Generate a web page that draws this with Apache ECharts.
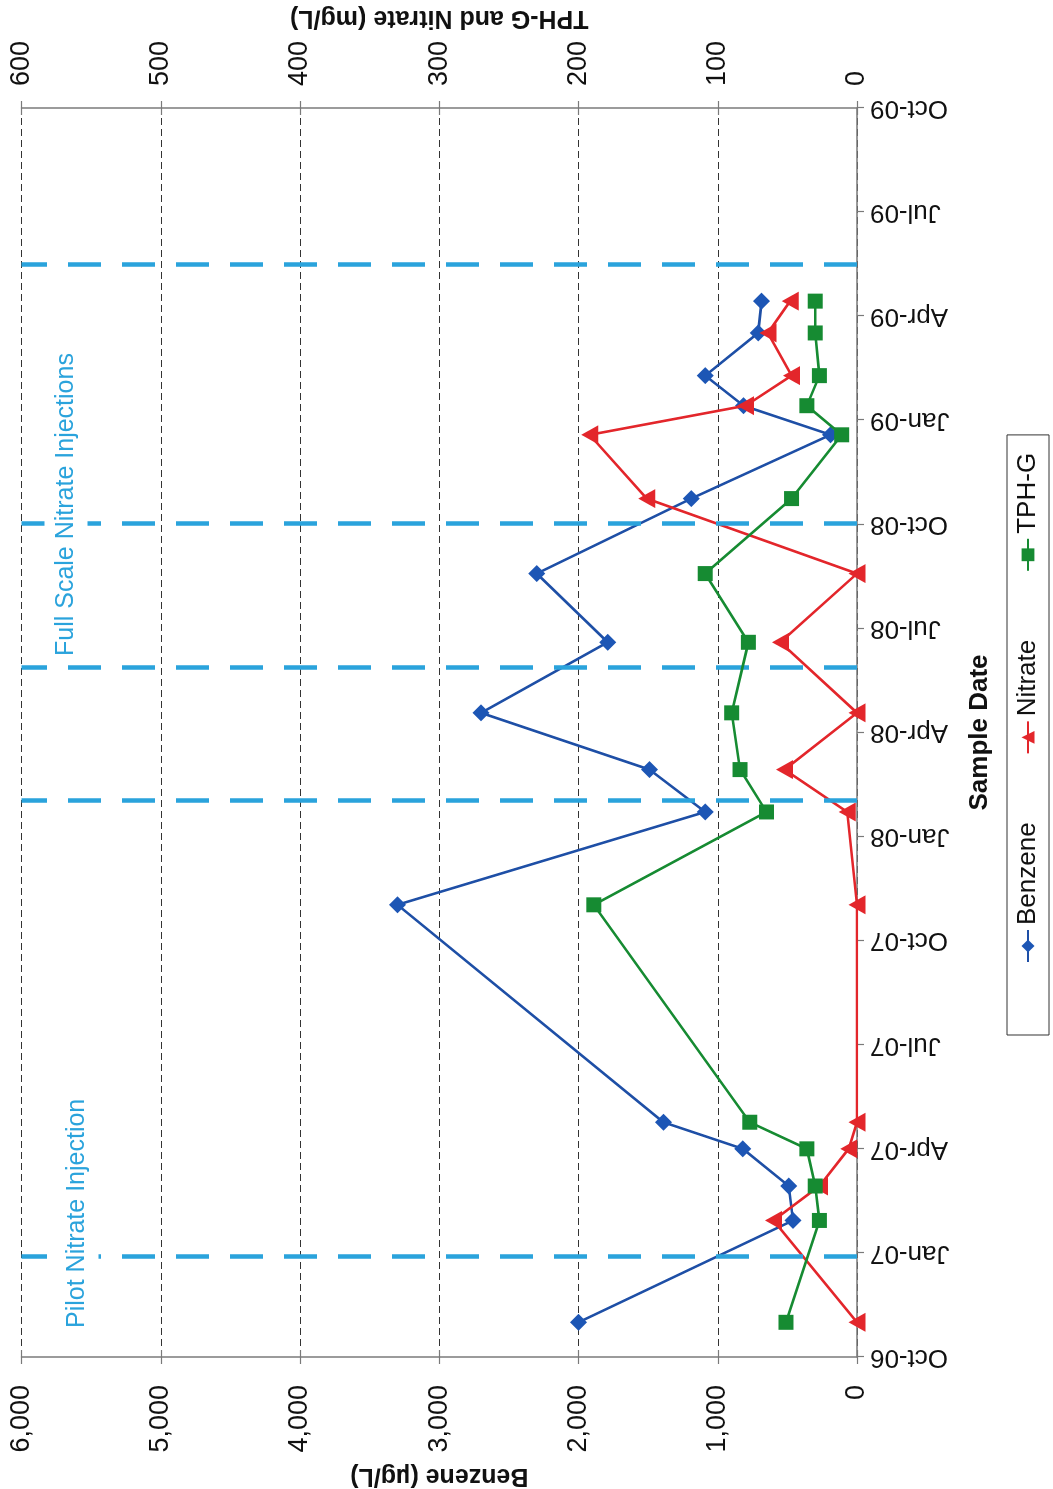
<!DOCTYPE html>
<html>
<head>
<meta charset="utf-8">
<script src="https://cdn.jsdelivr.net/npm/echarts@6/dist/echarts.min.js"></script>
<style>
  html, body { margin: 0; padding: 0; background: #fff; overflow: hidden; width: 1053px; height: 1489px; }
  /* the chart is laid out landscape and turned a quarter turn counter-clockwise onto the portrait page */
  #chart { position: absolute; left: 0; top: 0; width: 1489px; height: 1053px;
           transform-origin: 0 0; transform: translateY(1489px) rotate(-90deg); }
</style>
</head>
<body>
<div id="chart"></div>
<script>
// Monitoring results per sample date
const sampleDates = ['2006-11-01', '2007-01-30', '2007-02-27', '2007-04-01', '2007-04-24',
                     '2007-11-02', '2008-01-23', '2008-02-28', '2008-04-18', '2008-06-19',
                     '2008-08-19', '2008-10-24', '2008-12-19', '2009-01-14', '2009-02-09',
                     '2009-03-17', '2009-04-14'];
const benzene = [2000, 460, 490, 820, 1390, 3300, 1090, 1490, 2700, 1790, 2300, 1190, 190, 815, 1090, 710, 685];
const nitrate = [0, 60, 27, 6, 0, 0, 7, 52, 0, 55, 0, 151, 192, 80, 47, 64, 48];
const tphg = [51, 27, 30, 36, 77, 189, 65, 84, 90, 78, 109, 47, 11, 36, 27, 30, 30];

// Nitrate injection events (pilot, then full scale)
const injectionDates = ['2006-12-29', '2008-02-02', '2008-05-28', '2008-10-02', '2009-05-16'];

// Axis tick labels
const dateTicks = ['Oct-06', 'Jan-07', 'Apr-07', 'Jul-07', 'Oct-07', 'Jan-08', 'Apr-08',
                   'Jul-08', 'Oct-08', 'Jan-09', 'Apr-09', 'Jul-09', 'Oct-09'];
const benzeneTicks = ['0', '1,000', '2,000', '3,000', '4,000', '5,000', '6,000'];
const mgTicks = ['0', '100', '200', '300', '400', '500', '600'];

// Dates are placed on a month scale starting at 1 Oct 2006
function monthIndex(s) {
  const [y, m, d] = s.split('-').map(Number);
  const dim = new Date(y, m, 0).getDate();
  return (y - 2006) * 12 + (m - 1) - 9 + (d - 1) / dim;
}
const xs = sampleDates.map(monthIndex);
const pairs = vals => xs.map((x, i) => [x, vals[i]]);

const FONT = '"Liberation Sans", Arial, sans-serif';
const AXIS_GREY = '#7a7a7a';
const BLUE_MARK = '#2aa3dc';

const chart = echarts.init(document.getElementById('chart'), null, { width: 1489, height: 1053, renderer: 'canvas' });

chart.setOption({
  animation: false,
  backgroundColor: '#ffffff',
  textStyle: { fontFamily: FONT, color: '#111' },
  grid: { left: 132, right: 108, top: 21.5, bottom: 196, containLabel: false, outerBoundsMode: 'none' },
  legend: {
    left: 454, top: 1007, orient: 'horizontal',
    padding: [8, 18, 8, 72], itemGap: 68, itemWidth: 32, itemHeight: 16,
    borderColor: '#333', borderWidth: 1,
    textStyle: { fontSize: 26, color: '#111', fontFamily: FONT },
    data: ['Benzene', 'Nitrate', 'TPH-G']
  },
  xAxis: {
    type: 'value', min: 0, max: 36, interval: 3,
    name: 'Sample Date', nameLocation: 'middle', nameGap: 110,
    nameTextStyle: { fontSize: 26, fontWeight: 'bold', color: '#111', fontFamily: FONT },
    axisLine: { show: true, onZero: false, lineStyle: { color: AXIS_GREY, width: 1.5 } },
    axisTick: { show: true, length: 7, lineStyle: { color: AXIS_GREY, width: 1.2 } },
    axisLabel: { rotate: 90, fontSize: 26, margin: 13, color: '#111', fontFamily: FONT,
                 formatter: v => dateTicks[Math.round(v / 3)] },
    splitLine: { show: false }
  },
  yAxis: [
    {
      type: 'value', min: 0, max: 6000, interval: 1000, position: 'left',
      name: 'Benzene (µg/L)', nameLocation: 'middle', nameGap: 88, nameRotate: 90,
      nameTextStyle: { fontSize: 25, fontWeight: 'bold', color: '#111', fontFamily: FONT },
      axisLine: { show: true, lineStyle: { color: AXIS_GREY, width: 1.5 } },
      axisTick: { show: true, length: 7, lineStyle: { color: AXIS_GREY, width: 1.2 } },
      axisLabel: { fontSize: 27, margin: 28, color: '#111', fontFamily: FONT,
                   formatter: v => benzeneTicks[Math.round(v / 1000)] },
      splitLine: { show: true, lineStyle: { type: [7, 4], color: '#333', width: 1 } }
    },
    {
      type: 'value', min: 0, max: 600, interval: 100, position: 'right',
      name: 'TPH-G and Nitrate (mg/L)', nameLocation: 'middle', nameGap: 76, nameRotate: 90,
      nameTextStyle: { fontSize: 25, fontWeight: 'bold', color: '#111', fontFamily: FONT },
      axisLine: { show: true, lineStyle: { color: AXIS_GREY, width: 1.5 } },
      axisTick: { show: true, length: 7, lineStyle: { color: AXIS_GREY, width: 1.2 } },
      axisLabel: { fontSize: 27, margin: 22, color: '#111', fontFamily: FONT,
                   formatter: v => mgTicks[Math.round(v / 100)] },
      splitLine: { show: false }
    },
    {
      // inner half of the crossing ticks on the benzene axis
      type: 'value', min: 0, max: 6000, interval: 1000, position: 'left', offset: 0,
      axisLine: { show: false },
      axisTick: { show: true, inside: true, length: 7, lineStyle: { color: AXIS_GREY, width: 1.2 } },
      axisLabel: { show: false }, splitLine: { show: false }
    },
    {
      // inner half of the crossing ticks on the mg/L axis
      type: 'value', min: 0, max: 600, interval: 100, position: 'right', offset: 0,
      axisLine: { show: false },
      axisTick: { show: true, inside: true, length: 7, lineStyle: { color: AXIS_GREY, width: 1.2 } },
      axisLabel: { show: false }, splitLine: { show: false }
    }
  ],
  graphic: [
    {
      type: 'text', x: 159, y: 77, z: 100,
      style: { text: 'Pilot Nitrate Injection', fontSize: 25, fontFamily: FONT, fill: BLUE_MARK,
               verticalAlign: 'middle', backgroundColor: '#fff', padding: [9, 2] }
    },
    {
      type: 'text', x: 831, y: 66, z: 100,
      style: { text: 'Full Scale Nitrate Injections', fontSize: 25, fontFamily: FONT, fill: BLUE_MARK,
               verticalAlign: 'middle', backgroundColor: '#fff', padding: [9, 2] }
    }
  ],
  series: [
    {
      name: 'Injections', type: 'line', yAxisIndex: 0, data: [], silent: true, z: 1,
      markLine: {
        silent: true, symbol: ['none', 'none'], label: { show: false },
        lineStyle: { color: BLUE_MARK, width: 4.5, type: [33, 21] },
        data: injectionDates.map(d => ({ xAxis: monthIndex(d) }))
      }
    },
    {
      name: 'Benzene', type: 'line', yAxisIndex: 0, z: 3,
      data: pairs(benzene),
      symbol: 'diamond', symbolSize: 17,
      itemStyle: { color: '#1d56b5' },
      lineStyle: { color: '#1e4fa6', width: 2.6 }
    },
    {
      name: 'Nitrate', type: 'line', yAxisIndex: 1, z: 4,
      data: pairs(nitrate),
      symbol: 'triangle', symbolSize: [19, 17],
      itemStyle: { color: '#e3262b' },
      lineStyle: { color: '#e3262b', width: 2.6 }
    },
    {
      name: 'TPH-G', type: 'line', yAxisIndex: 1, z: 5,
      data: pairs(tphg),
      symbol: 'rect', symbolSize: 15,
      itemStyle: { color: '#168b32' },
      lineStyle: { color: '#168b32', width: 2.6 }
    }
  ]
});
</script>
</body>
</html>
